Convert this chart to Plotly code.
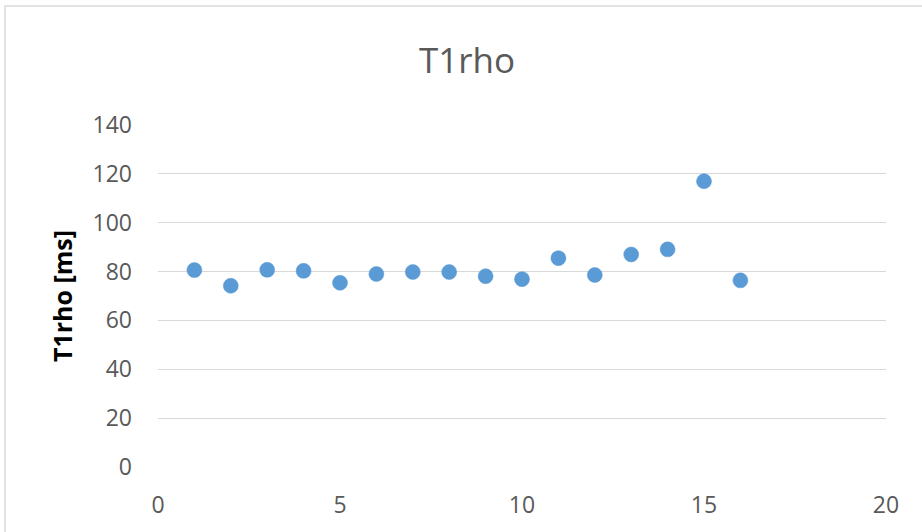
import plotly.graph_objects as go

x_vals = [1, 2, 3, 4, 5, 6, 7, 8, 9, 10, 11, 12, 13, 14, 15, 16]
t1rho_ms = [80.6, 74.2, 80.7, 80.3, 75.4, 79.0, 79.8, 79.8, 78.1, 76.9, 85.5, 78.6, 87.0, 89.1, 117.0, 76.4]
x_ticks = [0, 5, 10, 15, 20]
y_ticks = [0, 20, 40, 60, 80, 100, 120, 140]

W, H = 922, 532
L, R, T, B = 158, 36, 125, 65
pw, ph = W - L - R, H - T - B

fig = go.Figure()
fig.add_trace(go.Scatter(
    x=x_vals, y=t1rho_ms, mode="markers",
    marker=dict(size=15, color="#5B9BD5", line=dict(width=0.5, color="#5B9BD5")),
    showlegend=False, hoverinfo="x+y",
))

tick_font = dict(family="Open Sans, Noto Sans, sans-serif", size=23, color="#595959")

fig.update_layout(
    width=W, height=H,
    margin=dict(l=L, r=R, t=T, b=B),
    paper_bgcolor="white", plot_bgcolor="white",
    title=dict(text="T1rho", x=467 / W, xref="container", xanchor="center",
               y=1 - 61 / H, yref="container", yanchor="middle",
               font=dict(family="Open Sans, Noto Sans, sans-serif", size=35, color="#595959")),
    xaxis=dict(range=[0, 20], tickvals=x_ticks, showgrid=False, zeroline=False,
               showline=False, ticks="", tickfont=tick_font, ticklabelstandoff=22),
    yaxis=dict(range=[0, 140], tickvals=y_ticks, showgrid=True, gridcolor="#D9D9D9",
               gridwidth=1.3, zeroline=False, showline=False, ticks="",
               tickfont=tick_font, ticklabelstandoff=25,
               title=dict(text="<b>T1rho [ms]</b>", standoff=12,
                          font=dict(family="Open Sans, Noto Sans, sans-serif", size=25, color="#000000"))),
)

# outer chart border (light grey)
fig.add_shape(type="rect", xref="paper", yref="paper",
              x0=(5 - L) / pw, x1=(W + 5 - L) / pw,
              y0=(H - B - (H + 5)) / ph, y1=(H - B - 6) / ph,
              line=dict(color="#D9D9D9", width=1.5), fillcolor="rgba(0,0,0,0)", layer="below")

fig.write_html("out.html", config={"displayModeBar": False},
               post_script="document.body.style.margin='0';")
